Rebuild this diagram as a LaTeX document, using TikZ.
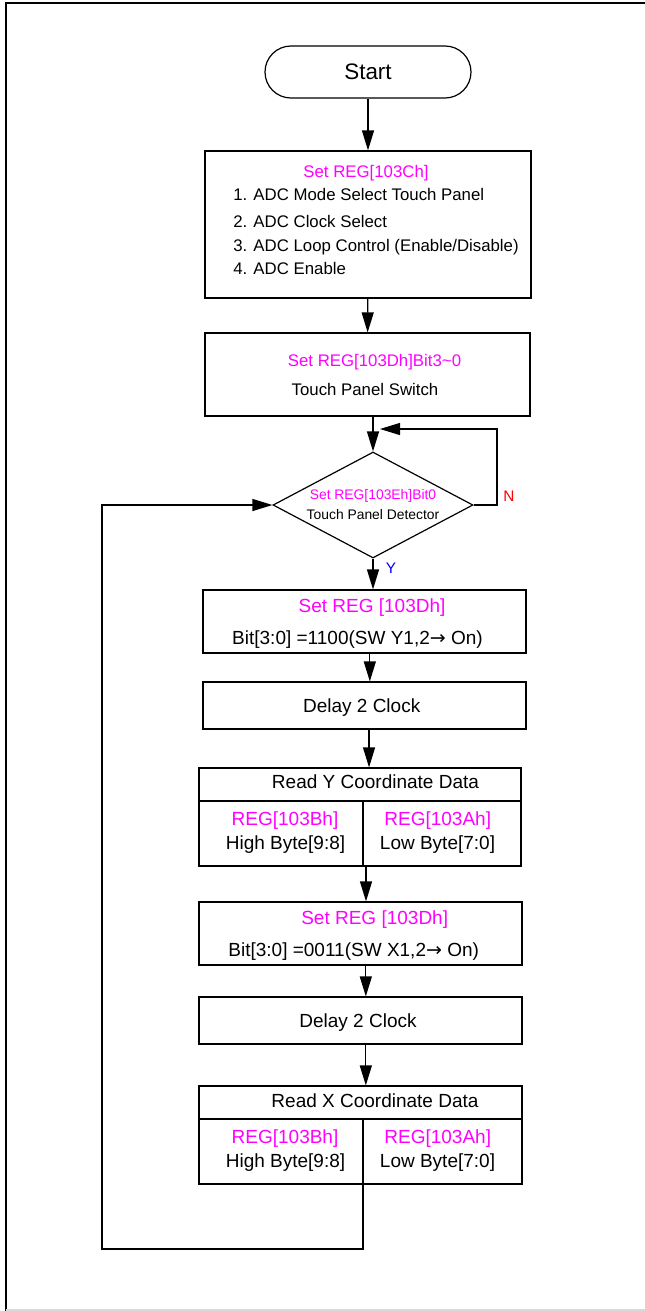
\documentclass[tikz,border=0pt]{standalone}
\usepackage{fontspec}
\setmainfont{Liberation Sans}
\newfontfamily\arrowfont{DejaVu Sans}
\usetikzlibrary{arrows.meta, shapes.geometric}
\definecolor{regmag}{RGB}{255,0,255}
\definecolor{nored}{RGB}{255,0,0}
\definecolor{yesblue}{RGB}{0,0,255}
\newcommand{\swto}{{\arrowfont →}}
\tikzset{
    box/.style={rectangle, draw, line width=0.9pt, inner sep=0pt},
    term/.style={box, rounded corners=19.5pt, minimum width=154.5pt, minimum height=39pt, font=\fontsize{16.8}{20}\selectfont},
    decide/.style={diamond, draw, line width=0.9pt, inner sep=0pt, aspect=1.89, minimum width=150pt, minimum height=79.5pt, align=center, font=\fontsize{10.4}{15}\selectfont},
    wire/.style={draw, line width=0.9pt},
    arr/.style={wire, -{Triangle[length=15pt, width=9pt]}},
    smalltxt/.style={inner sep=0pt, anchor=base, font=\fontsize{12.6}{15}\selectfont},
    bigtxt/.style={inner sep=0pt, anchor=base, font=\fontsize{14.25}{17}\selectfont},
    reg/.style={text=regmag},
    yn/.style={inner sep=0pt, font=\fontsize{11.5}{14}\selectfont},
}
\begin{document}
\begin{tikzpicture}[x=0.75pt, y=-0.75pt]
    \useasboundingbox (0,0) rectangle (645,1311);
    \draw[line width=1.5pt] (645,3.3) -- (5.7,3.3) -- (5.7,1311);
    \draw[black!15, line width=0.9pt] (5.7,1310) -- (645,1310);

    \node[term] (start) at (368,72) {Start};

    \node[box, minimum width=244.5pt, minimum height=110.25pt] (adc) at (368,224.5) {};
    \node[smalltxt, reg] (adct) at (366,177) {Set REG[103Ch]};
    \foreach \y/\itm [count=\i] in {200.3/{1. ADC Mode Select Touch Panel}, 227.7/{2. ADC Clock Select}, 251/{3. ADC Loop Control (Enable/Disable)}, 274.3/{4. ADC Enable}}
        \node[smalltxt, anchor=base west] (adc\i) at (233,\y) {\itm};

    \node[box, minimum width=243.75pt, minimum height=62.25pt] (sw) at (367.5,374.5) {};
    \node[smalltxt, reg] (swt) at (374.5,366) {Set REG[103Dh]Bit3\textasciitilde 0};
    \node[smalltxt] (swl) at (365,395.3) {Touch Panel Switch};

    \node[decide] (det) at (373,505) {\textcolor{regmag}{Set REG[103Eh]Bit0}\\Touch Panel Detector};
    \node[yn, text=nored] (nlab) at (509,496) {N};
    \node[yn, text=yesblue] (ylab) at (391,568.3) {Y};

    \node[box, minimum width=242.25pt, minimum height=47.25pt] (sety) at (364.5,621.5) {};
    \node[bigtxt, reg] (setyt) at (372,612.8) {Set REG [103Dh]};
    \node[bigtxt] (setyl) at (357.5,644.8) {Bit[3:0] =1100(SW Y1,2\swto\ On)};

    \node[box, minimum width=242.25pt, minimum height=35.25pt] (dly1) at (364.5,705.5) {};
    \node[bigtxt] (dly1t) at (361.7,712.5) {Delay 2 Clock};

    \node[box, minimum width=241.5pt, minimum height=73.5pt] (ready) at (360,817) {};
    \coordinate (ydiv) at (363,801);
    \draw[wire] (ready.west |- ydiv) -- (ready.east |- ydiv) (ydiv) -- (ydiv |- ready.south);
    \node[bigtxt] (readyt) at (375.5,788.8) {Read Y Coordinate Data};
    \node[bigtxt, reg] (yhi) at (285,825.5) {REG[103Bh]};
    \node[bigtxt] (yhib) at (285.5,849.8) {High Byte[9:8]};
    \node[bigtxt, reg] (ylo) at (437.7,825.5) {REG[103Ah]};
    \node[bigtxt] (ylob) at (437.5,849.8) {Low Byte[7:0]};

    \node[box, minimum width=242.25pt, minimum height=47.25pt] (setx) at (360.5,933.5) {};
    \node[bigtxt, reg] (setxt) at (374.7,924) {Set REG [103Dh]};
    \node[bigtxt] (setxl) at (353.7,956.8) {Bit[3:0] =0011(SW X1,2\swto\ On)};

    \node[box, minimum width=242.25pt, minimum height=35.25pt] (dly2) at (360.5,1020.5) {};
    \node[bigtxt] (dly2t) at (358,1027.5) {Delay 2 Clock};

    \node[box, minimum width=242.25pt, minimum height=73.5pt] (readx) at (360.5,1135) {};
    \coordinate (xdiv) at (363,1119);
    \draw[wire] (readx.west |- xdiv) -- (readx.east |- xdiv) (xdiv) -- (xdiv |- readx.south);
    \node[bigtxt] (readxt) at (375,1107.5) {Read X Coordinate Data};
    \node[bigtxt, reg] (xhi) at (285,1143.8) {REG[103Bh]};
    \node[bigtxt] (xhib) at (285.5,1167.8) {High Byte[9:8]};
    \node[bigtxt, reg] (xlo) at (437.7,1143.8) {REG[103Ah]};
    \node[bigtxt] (xlob) at (437.5,1167.8) {Low Byte[7:0]};

    \draw[arr] (start) -- (adc);
    \draw[arr] (adc) -- (sw);
    \draw[arr] (sw.south -| det.north) -- (det.north);
    \draw[arr] (det.south) -- (det.south |- sety.north);
    \draw[arr] ([xshift=4pt]sety.south) -- ([xshift=4pt]dly1.north);
    \draw[arr] ([xshift=3.4pt]dly1.south) -- ([xshift=3.4pt]dly1.south |- ready.north);
    \draw[arr] ([xshift=4.5pt]ready.south) -- ([xshift=4.5pt]ready.south |- setx.north);
    \draw[arr] ([xshift=4pt]setx.south) -- ([xshift=4pt]dly2.north);
    \draw[arr] ([xshift=4pt]dly2.south) -- ([xshift=4pt]readx.north);

    \coordinate (nret) at (497,429);
    \draw[arr] (det.east) -| (nret) -- ([xshift=5.25pt]det.north |- nret);
    \coordinate (back) at (102,1249);
    \draw[arr] (xdiv |- readx.south) |- (back) |- (det.west);
\end{tikzpicture}
\end{document}
